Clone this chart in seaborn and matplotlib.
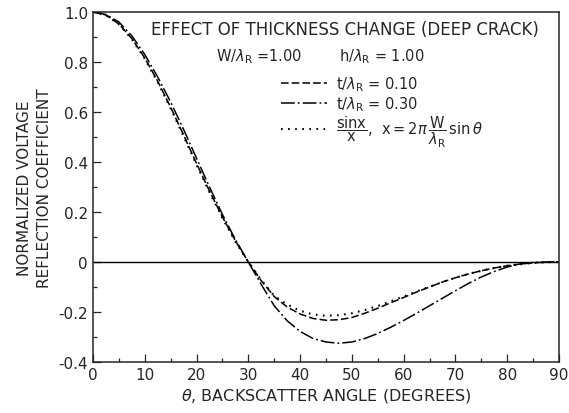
import numpy as np
import pandas as pd
import matplotlib
matplotlib.use('Agg')
import matplotlib.pyplot as plt
import seaborn as sns

# backscatter angle in degrees
theta = [0, 2.5, 5, 7.5, 10, 12.5, 15, 17.5, 20, 22.5, 25, 27.5, 30, 32.5, 35,
         37.5, 40, 42.5, 45, 47.5, 50, 52.5, 55, 57.5, 60, 62.5, 65, 67.5, 70,
         72.5, 75, 77.5, 80, 82.5, 85, 87.5, 90]

# t/lambda_R = 0.10 (dashed)
t010 = [1.0, 0.988, 0.952, 0.894, 0.816, 0.723, 0.619, 0.508, 0.394, 0.284, 0.180,
        0.085, 0.0, -0.075, -0.138, -0.180, -0.208, -0.226, -0.233, -0.231, -0.222,
        -0.205, -0.185, -0.163, -0.142, -0.120, -0.100, -0.080, -0.063, -0.048,
        -0.035, -0.024, -0.015, -0.008, -0.003, -0.001, 0.0]

# t/lambda_R = 0.30 (dash-dot)
t030 = [1.0, 0.990, 0.960, 0.905, 0.830, 0.740, 0.640, 0.530, 0.415, 0.300, 0.190,
        0.090, 0.0, -0.090, -0.175, -0.235, -0.278, -0.306, -0.320, -0.325, -0.320,
        -0.306, -0.286, -0.261, -0.234, -0.205, -0.175, -0.145, -0.115, -0.086,
        -0.060, -0.038, -0.020, -0.008, -0.002, 0.0, 0.0]

# sin(x)/x reference (dotted)
sinc = [1.0, 0.988, 0.951, 0.892, 0.813, 0.719, 0.614, 0.503, 0.389, 0.279, 0.176,
        0.082, 0.0, -0.072, -0.135, -0.170, -0.195, -0.210, -0.215, -0.213, -0.205,
        -0.192, -0.176, -0.157, -0.138, -0.118, -0.099, -0.080, -0.063, -0.048,
        -0.035, -0.024, -0.015, -0.009, -0.004, -0.001, 0.0]

df = pd.DataFrame({'theta': theta, 't010': t010, 't030': t030, 'sinc': sinc})

sns.set_style('ticks')
plt.rcParams['font.family'] = ['DejaVu Sans']
plt.rcParams['mathtext.fontset'] = 'dejavusans'

fig = plt.figure(figsize=(5.69, 4.14), dpi=100)
ax = fig.add_axes([0.1634, 0.1232, 0.819, 0.8454])

ax.axhline(0, color='black', lw=1.0)
sns.lineplot(data=df, x='theta', y='t010', ax=ax, color='black', lw=1.1,
             label=r'$\mathrm{t}/\lambda_\mathrm{R}$ = 0.10')
sns.lineplot(data=df, x='theta', y='t030', ax=ax, color='black', lw=1.1,
             label=r'$\mathrm{t}/\lambda_\mathrm{R}$ = 0.30')
sns.lineplot(data=df, x='theta', y='sinc', ax=ax, color='black', lw=1.5,
             label=r'$\dfrac{\mathrm{sin x}}{\mathrm{x}}$,  $\mathrm{x} = 2\pi\,\dfrac{\mathrm{W}}{\lambda_\mathrm{R}}\,\mathrm{sin}\,\theta$')

lines = ax.get_lines()[1:]
lines[0].set_dashes([5, 2])
lines[1].set_dashes([9, 2, 1.2, 2])
lines[2].set_dashes([0.8, 2.6])

ax.set_xlim(0, 90)
ax.set_ylim(-0.4, 1.0)
ax.set_xticks(range(0, 91, 10))
ax.set_xticks(range(0, 91, 5), minor=True)
ax.set_yticks([-0.4, -0.2, 0, 0.2, 0.4, 0.6, 0.8, 1.0])
ax.set_yticklabels(['-0.4', '-0.2', '0', '0.2', '0.4', '0.6', '0.8', '1.0'])
ax.set_yticks(np.arange(-0.4, 1.01, 0.1), minor=True)
ax.tick_params(which='both', direction='in', top=False, right=False, labelsize=11, width=0.9)
ax.tick_params(which='major', length=6)
ax.tick_params(which='minor', length=3)
for s in ax.spines.values():
    s.set_linewidth(1.1)

ax.set_xlabel(r'$\theta$, BACKSCATTER ANGLE (DEGREES)', fontsize=11.5, labelpad=3)
ax.set_ylabel('NORMALIZED VOLTAGE\nREFLECTION COEFFICIENT', fontsize=11,
              linespacing=1.35, labelpad=5)

ax.text(0.54, 0.95, 'EFFECT OF THICKNESS CHANGE (DEEP CRACK)', transform=ax.transAxes,
        ha='center', va='center', fontsize=12)
ax.text(0.265, 0.875, r'W/$\lambda_\mathrm{R}$ =1.00', transform=ax.transAxes,
        ha='left', va='center', fontsize=10.5)
ax.text(0.527, 0.875, r'h/$\lambda_\mathrm{R}$ = 1.00', transform=ax.transAxes,
        ha='left', va='center', fontsize=10.5)

ax.legend(loc='upper left', bbox_to_anchor=(0.39, 0.838), frameon=False, fontsize=10.5,
          handlelength=3.2, handletextpad=0.6, labelspacing=0.05, borderaxespad=0)

plt.savefig('out.png', dpi=100)
